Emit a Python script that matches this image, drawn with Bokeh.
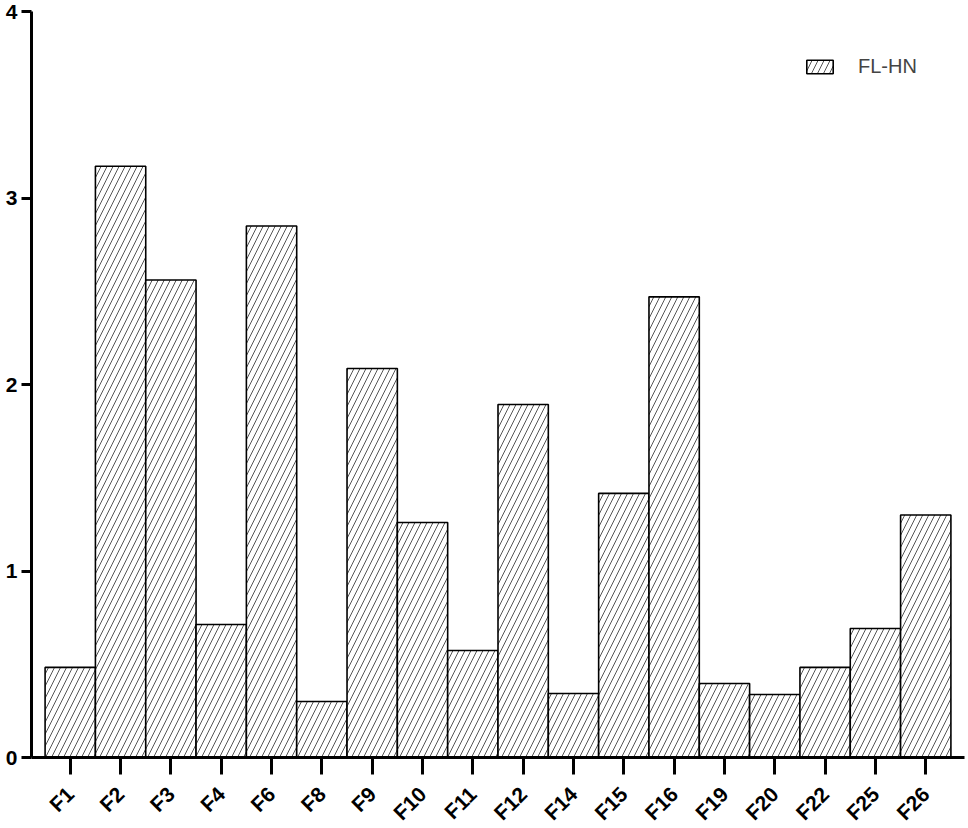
from bokeh.plotting import figure
from bokeh.models import FactorRange, Range1d, Legend, LegendItem, ColumnDataSource
from bokeh.embed import file_html
from bokeh.resources import INLINE
import math

categories = ["F1", "F2", "F3", "F4", "F6", "F8", "F9", "F10", "F11", "F12",
              "F14", "F15", "F16", "F19", "F20", "F22", "F25", "F26"]
values = [0.483, 3.17, 2.56, 0.713, 2.85, 0.30, 2.086, 1.26, 0.574, 1.893,
          0.343, 1.416, 2.47, 0.397, 0.338, 0.483, 0.692, 1.30]
series_name = "FL-HN"
y_ticks = [0, 1, 2, 3, 4]

src = ColumnDataSource(dict(cat=categories, val=values))

p = figure(frame_width=933, frame_height=746, output_backend="svg", toolbar_location=None,
           x_range=FactorRange(*categories, range_padding=0.03),
           y_range=Range1d(0, 4),
           min_border_left=31, min_border_right=4, min_border_top=11, min_border_bottom=0)
p.outline_line_color = None
p.grid.visible = False
p.background_fill_color = "white"

r = p.vbar(x="cat", top="val", width=1.0, source=src,
           fill_color="white", line_color="black", line_width=1.6,
           hatch_pattern="/", hatch_color="#555555", hatch_scale=12, hatch_weight=1)

# axes
for ax in (p.xaxis[0], p.yaxis[0]):
    ax.axis_line_width = 3
    ax.axis_line_color = "black"
    ax.major_tick_line_width = 3
    ax.major_tick_line_color = "black"
    ax.minor_tick_line_color = None
    ax.major_tick_in = 0
    ax.major_label_text_font = "Arial"
    ax.major_label_text_font_style = "bold"
    ax.major_label_text_font_size = "21px"
    ax.major_label_text_color = "black"

p.yaxis.ticker = y_ticks
p.yaxis.major_tick_out = 10
p.yaxis.major_label_standoff = 4
p.xaxis.major_tick_out = 17
p.xaxis.major_label_standoff = 16
p.xaxis.major_label_text_line_height = 0.7
p.xaxis.major_label_orientation = math.pi / 4

legend = Legend(items=[LegendItem(label=series_name, renderers=[r])],
                location=(772, 679), border_line_color=None,
                background_fill_alpha=0, label_text_font="Arial",
                label_text_font_size="20px", glyph_width=33, glyph_height=17,
                label_standoff=22, margin=0, padding=0)
p.add_layout(legend)

open("out.html", "w").write(file_html(p, INLINE))
